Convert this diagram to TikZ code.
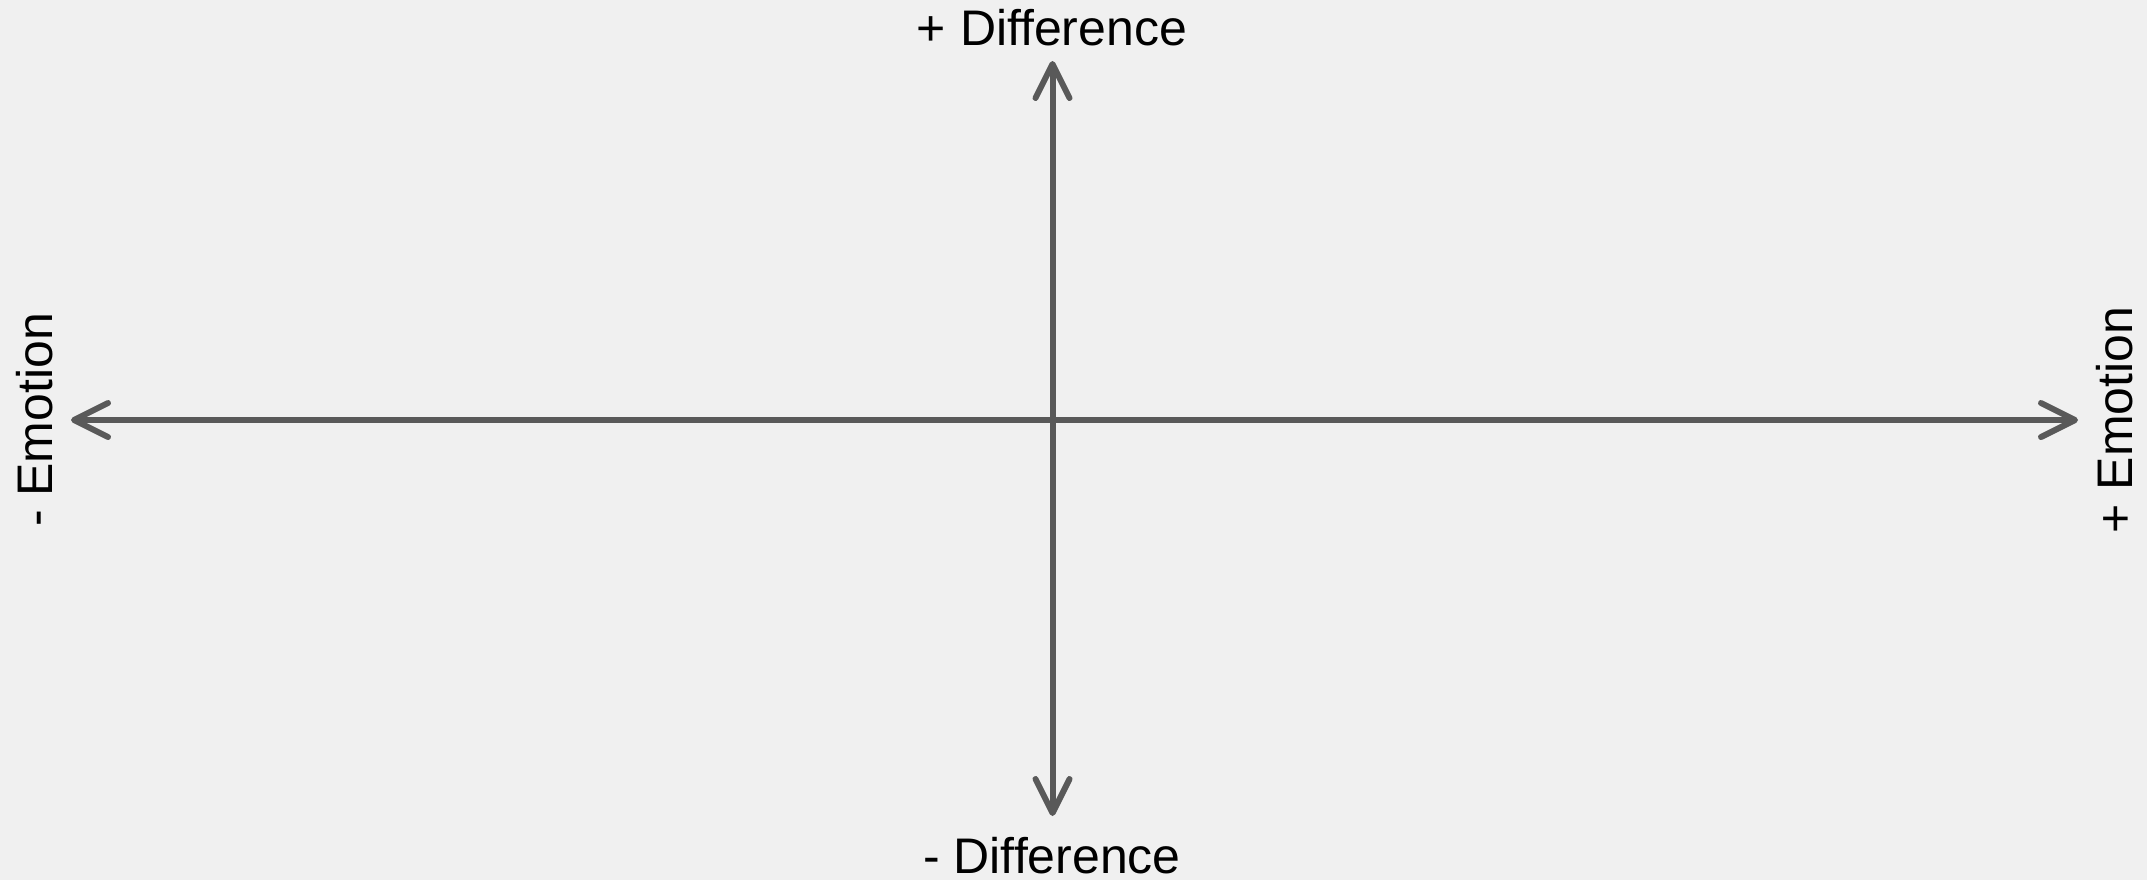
\documentclass[tikz,border=0pt]{standalone}
\usepackage{fontspec}
\setmainfont{Liberation Sans}
\usepackage{tikz}
\usetikzlibrary{arrows.meta}
\definecolor{bgcol}{HTML}{F0F0F0}
\definecolor{axiscol}{HTML}{595959}

\begin{document}
\begin{tikzpicture}[x=0.5pt,y=-0.5pt,font=\fontsize{25}{30}\selectfont,
  axis/.style={draw=axiscol,line width=3pt,line cap=round,
    {Straight Barb[length=17pt,width=17pt,line cap=round,line join=round]}-{Straight Barb[length=17pt,width=17pt,line cap=round,line join=round]}},
  lbl/.style={inner sep=0pt,anchor=base}]
\fill[bgcol] (0,0) rectangle (2147,880);
\useasboundingbox (0,0) rectangle (2147,880);
% axis ends
\coordinate (north) at (1052.5,61);
\coordinate (south) at (1052.5,816);
\coordinate (west) at (71,420);
\coordinate (east) at (2078,420);
\draw[axis] (west) -- (east);
\draw[axis] (south) -- (north);
% labels
\node[lbl] (plusdiff) at (1052,45) {+ Difference};
\node[lbl] (minusdiff) at (1052,873) {- Difference};
\node[lbl,rotate=90] (minusemo) at (52,420) {- Emotion};
\node[lbl,rotate=90] (plusemo) at (2132,420) {+ Emotion};
\end{tikzpicture}
\end{document}
